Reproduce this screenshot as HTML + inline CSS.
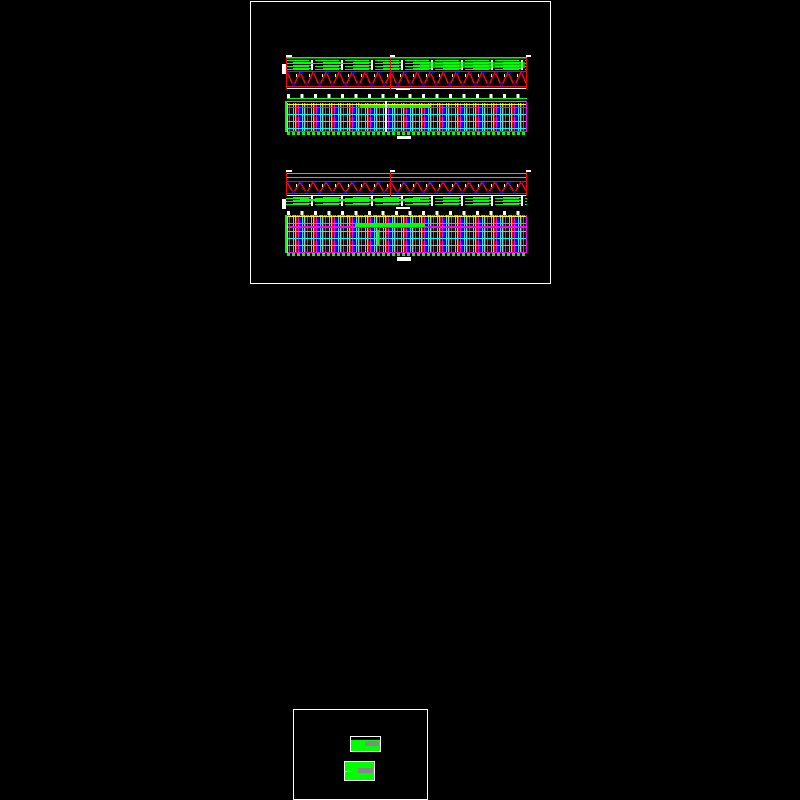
<!DOCTYPE html>
<html><head><meta charset="utf-8"><style>html,body{margin:0;background:#000;width:800px;height:800px;overflow:hidden}</style></head>
<body>
<svg width="800" height="800" viewBox="0 0 800 800" xmlns="http://www.w3.org/2000/svg" shape-rendering="crispEdges">
<defs>
<pattern id="zig1" x="287" y="71" width="13" height="16" patternUnits="userSpaceOnUse">
<polyline points="0,1 6.5,15 13,1" fill="none" stroke="#f00" stroke-width="1.5"/>
<rect x="5" y="12" width="3" height="3" fill="#00f"/>
<rect x="0" y="1" width="3" height="2" fill="#00f"/>
<rect x="9" y="3" width="1" height="3" fill="#fff"/>
</pattern>
<pattern id="zig2" x="287" y="181" width="13" height="13" patternUnits="userSpaceOnUse">
<polyline points="0,1 6.5,12 13,1" fill="none" stroke="#f00" stroke-width="1.5"/>
<rect x="5" y="10" width="3" height="3" fill="#00f"/>
<rect x="0" y="0" width="3" height="2" fill="#00f"/>
<rect x="9" y="3" width="1" height="3" fill="#fff"/>
</pattern>
<pattern id="vl" x="287" y="0" width="9" height="10" patternUnits="userSpaceOnUse">
<rect x="0" width="1" height="10" fill="#f00"/>
<rect x="2" width="1" height="10" fill="#f0f"/>
<rect x="4" width="1" height="10" fill="#00f"/>
<rect x="6" width="1" height="10" fill="#0ff"/>
<rect x="8" width="1" height="10" fill="#bbb"/>
</pattern>
<pattern id="tk" x="287" y="0" width="13.5" height="4" patternUnits="userSpaceOnUse">
<rect x="0" width="3" height="4" fill="#fff"/>
</pattern>
<pattern id="gd" x="287" y="0" width="5" height="3" patternUnits="userSpaceOnUse">
<rect x="0" width="3" height="3" fill="#0f0"/>
</pattern>
<pattern id="gb" x="285" y="0" width="30" height="3" patternUnits="userSpaceOnUse">
<rect x="0" width="24" height="1" fill="#0f0"/><rect x="8" y="2" width="18" height="1" fill="#0f0"/><rect x="26" y="0" width="2" height="3" fill="#fff"/>
</pattern>
</defs>
<rect x="250.5" y="1.5" width="300" height="282" fill="none" stroke="#fff"/>
<rect x="293.5" y="709.5" width="134" height="90" fill="none" stroke="#fff"/>

<!-- Drawing 1 truss -->
<g>
<rect x="286" y="55" width="6" height="2" fill="#fff"/><rect x="390" y="55" width="5" height="2" fill="#fff"/><rect x="526" y="55" width="5" height="2" fill="#fff"/>
<rect x="286" y="57" width="241" height="1.5" fill="#0f0"/>
<rect x="286" y="60" width="241" height="10" fill="url(#gb)"/>
<rect x="290" y="63" width="60" height="1" fill="#0f0"/><rect x="420" y="62" width="105" height="6" fill="#0f0" opacity=".7"/>
<rect x="287" y="71" width="240" height="16" fill="url(#zig1)"/>
<rect x="287" y="71" width="240" height="1" fill="#f00"/>
<rect x="287" y="86" width="240" height="1" fill="#f00"/>
<rect x="287" y="88" width="240" height="1" fill="#fff"/>
<rect x="286" y="58" width="1" height="31" fill="#f00"/><rect x="390" y="58" width="1" height="31" fill="#f00"/><rect x="526" y="58" width="1" height="31" fill="#f00"/>
<rect x="282" y="64" width="4" height="10" fill="#fff"/>
<rect x="396" y="88" width="14" height="2" fill="#fff"/>
</g>
<!-- Drawing 1 plan -->
<g>
<rect x="287" y="94" width="240" height="4" fill="url(#tk)"/>
<rect x="287" y="98" width="240" height="1" fill="#0f0"/>
<rect x="287" y="101" width="240" height="1" fill="#999"/>
<rect x="287" y="103" width="240" height="29" fill="url(#vl)"/>
<rect x="287" y="104" width="240" height="1" fill="#ff0"/>
<rect x="287" y="107" width="240" height="1" fill="#f0f"/>
<rect x="360" y="105" width="70" height="3" fill="#0f0"/>
<rect x="287" y="114" width="240" height="1" fill="#0ff"/>
<rect x="287" y="121" width="240" height="1" fill="#0ff"/>
<rect x="287" y="128" width="240" height="1" fill="#0ff"/>
<rect x="287" y="131" width="240" height="1" fill="#f0f"/>
<rect x="285" y="101" width="2" height="31" fill="#0f0"/><rect x="287" y="103" width="1" height="29" fill="#ff0"/>
<rect x="526" y="101" width="1" height="31" fill="#f0f"/>
<rect x="385" y="101" width="2" height="31" fill="#fff"/>
<rect x="287" y="132" width="240" height="3" fill="url(#gd)"/>
<rect x="397" y="136" width="14" height="3" fill="#fff"/>
</g>

<!-- Drawing 2 truss -->
<g>
<rect x="286" y="170" width="6" height="2" fill="#fff"/><rect x="390" y="170" width="5" height="2" fill="#fff"/><rect x="526" y="170" width="5" height="2" fill="#fff"/>
<rect x="286" y="173" width="241" height="1" fill="#0f0"/>
<rect x="286" y="177" width="241" height="1" fill="#0f0"/>
<rect x="287" y="181" width="240" height="13" fill="url(#zig2)"/>
<rect x="287" y="181" width="240" height="1" fill="#f00"/>
<rect x="287" y="193" width="240" height="1" fill="#f00"/>
<rect x="287" y="195" width="240" height="1" fill="#fff"/>
<rect x="286" y="172" width="1" height="24" fill="#f00"/><rect x="390" y="172" width="1" height="24" fill="#f00"/><rect x="526" y="172" width="1" height="24" fill="#f00"/>
<rect x="286" y="196" width="241" height="10" fill="url(#gb)"/>
<rect x="300" y="199" width="120" height="2" fill="#0f0"/>
<rect x="282" y="199" width="4" height="10" fill="#fff"/>
<rect x="396" y="207" width="14" height="2" fill="#fff"/>
</g>
<!-- Drawing 2 plan -->
<g>
<rect x="287" y="211" width="240" height="4" fill="url(#tk)"/>
<rect x="287" y="215" width="240" height="1" fill="#0f0"/>
<rect x="287" y="215" width="240" height="38" fill="url(#vl)"/>
<rect x="287" y="216" width="240" height="1" fill="#ff0"/>
<rect x="287" y="223" width="240" height="1" fill="#999"/>
<rect x="287" y="226" width="240" height="2" fill="#f0f"/>
<rect x="355" y="224" width="70" height="3" fill="#0f0"/>
<rect x="287" y="231" width="240" height="1" fill="#0ff"/>
<rect x="287" y="238" width="240" height="1" fill="#0ff"/>
<rect x="287" y="245" width="240" height="1" fill="#0ff"/>
<rect x="287" y="252" width="240" height="1" fill="#f0f"/>
<rect x="285" y="215" width="2" height="38" fill="#0f0"/><rect x="287" y="216" width="1" height="37" fill="#ff0"/>
<rect x="526" y="215" width="1" height="38" fill="#f0f"/>
<rect x="377" y="230" width="2" height="16" fill="#0f0"/>
<rect x="287" y="253" width="240" height="3" fill="url(#gd)"/>
<rect x="397" y="257" width="14" height="4" fill="#fff"/>
</g>

<!-- small thumbnails -->
<rect x="350.5" y="736.5" width="30" height="15" fill="#0f0" stroke="#fff"/>
<rect x="351" y="737" width="29" height="3" fill="#000"/>
<rect x="365" y="741" width="14" height="5" fill="#888"/>
<rect x="344.5" y="761.5" width="30" height="19" fill="#0f0" stroke="#fff"/>
<rect x="358" y="768" width="15" height="5" fill="#888"/>
<rect x="344" y="771" width="8" height="1" fill="#ff0"/>
</svg>
</body></html>
